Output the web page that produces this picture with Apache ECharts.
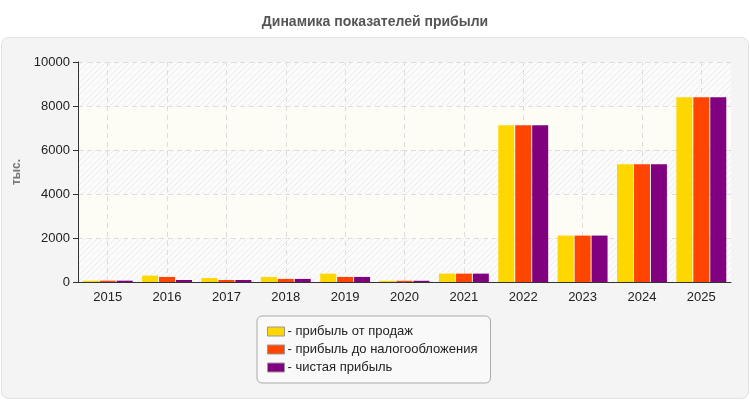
<!DOCTYPE html>
<html><head><meta charset="utf-8">
<script src="https://cdn.jsdelivr.net/npm/echarts@6/dist/echarts.min.js"></script>
<style>html,body{margin:0;padding:0;background:#fff}#c{width:750px;height:400px}</style>
</head><body><div id="c"></div>
<script>
const titleText = 'Динамика показателей прибыли';
const yAxisName = 'тыс.';
const categories = ['2015','2016','2017','2018','2019','2020','2021','2022','2023','2024','2025'];
const seriesNames = ['прибыль от продаж','прибыль до налогообложения','чистая прибыль'];
const salesProfit = [60, 290, 180, 230, 380, 55, 380, 7130, 2110, 5350, 8400];
const preTaxProfit = [60, 230, 90, 140, 230, 55, 380, 7130, 2110, 5350, 8400];
const netProfit = [60, 90, 90, 140, 230, 55, 380, 7130, 2110, 5350, 8400];
const colors = ['#FFD700', '#FF4500', '#800080'];

// hatch pattern
const pc = document.createElement('canvas');
pc.width = 6; pc.height = 6;
const g = pc.getContext('2d');
g.fillStyle = '#fbfbfb'; g.fillRect(0,0,6,6);
g.strokeStyle = '#ebebeb'; g.lineWidth = 1;
g.beginPath(); g.moveTo(0,6); g.lineTo(6,0); g.moveTo(-1,1); g.lineTo(1,-1); g.moveTo(5,7); g.lineTo(7,5); g.stroke();

const chart = echarts.init(document.getElementById('c'));
const vals = [salesProfit, preTaxProfit, netProfit];
const series = seriesNames.map((n,i)=>({
  name: n, type: 'bar', data: vals[i], barWidth: 16, barGap: '6%',
  itemStyle: {color: colors[i]}, z: 3
}));
series.push({
  type: 'line', data: [], z: 1, silent: true,
  markLine: {silent: true, symbol: 'none', z: 1, label: {show: false},
    lineStyle: {color: '#dddddd', type: [5,4], width: 1},
    data: categories.map(c=>({xAxis: c}))}
});
const font = 'Liberation Sans, Arial';
chart.setOption({
  animation: false,
  backgroundColor: '#fff',
  graphic: [{type:'rect', z: -10, shape:{x:1.5,y:37.5,width:747,height:361,r:7},
    style:{fill:'#f4f4f4', stroke:'#e2e2e2', lineWidth:1}}],
  title: {text: titleText, left: 'center', top: 10,
    textStyle: {fontFamily: font, fontSize: 14, fontWeight: 'bold', color: '#555'}},
  grid: {left: 78, right: 19, top: 62, bottom: 118},
  legend: {orient: 'vertical', left: 257, top: 316, itemWidth: 17, itemHeight: 9,
    itemGap: 5, padding: [9, 13, 9, 10], borderColor: '#aaaaaa', borderWidth: 1, borderRadius: 5,
    backgroundColor: '#f9f9f9', icon: 'rect',
    itemStyle: {borderColor: '#999', borderWidth: 1},
    formatter: n => '- ' + n,
    textStyle: {fontFamily: font, fontSize: 13, color: '#222', padding: [0,0,0,-2]},
    data: seriesNames},
  xAxis: {type: 'category', data: categories,
    axisLine: {lineStyle: {color: '#333'}},
    axisTick: {alignWithLabel: true, lineStyle: {color: '#333'}},
    axisLabel: {color: '#222', fontSize: 13, fontFamily: font, margin: 9},
    splitLine: {show: false}},
  yAxis: {type: 'value', min: 0, max: 10000, interval: 2000,
    name: yAxisName, nameLocation: 'middle', nameGap: 47, nameRotate: 90,
    nameTextStyle: {color: '#777', fontWeight: 'bold', fontSize: 12, fontFamily: font},
    axisLine: {show: true, lineStyle: {color: '#333'}},
    axisTick: {show: true, length: 5, lineStyle: {color: '#333'}},
    axisLabel: {color: '#222', fontSize: 13, fontFamily: font, margin: 8, formatter: v => String(v)},
    splitLine: {lineStyle: {color: '#dddddd', type: [5,4]}},
    splitArea: {show: true, areaStyle: {color: [{image: pc, repeat: 'repeat'}, '#fdfdf6']}}},
  series: series
});
</script></body></html>
